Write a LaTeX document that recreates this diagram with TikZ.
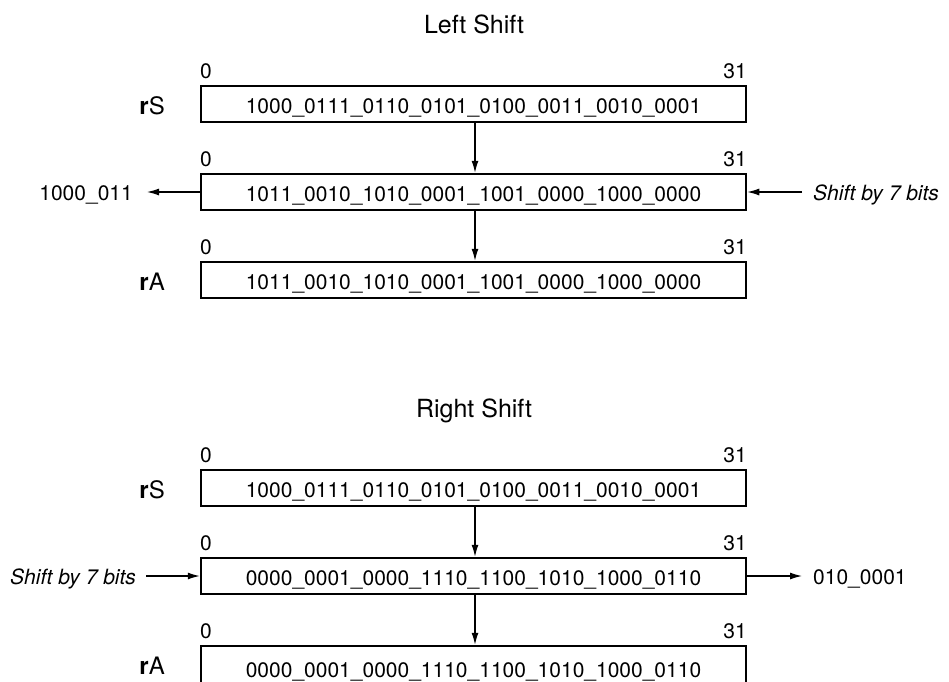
\documentclass[tikz,border=0pt]{standalone}
\usepackage{fontspec}
\setmainfont{TeX Gyre Heros}
\usetikzlibrary{arrows.meta}
\begin{document}
\begin{tikzpicture}[x=1pt,y=-1pt,
 reg/.style={draw, line width=2.5pt, minimum width=545pt, minimum height=36pt, inner sep=0pt, text height=18pt, text depth=0pt, font=\fontsize{21}{25}\selectfont},
 bit/.style={inner sep=0pt, font=\fontsize{21}{25}\selectfont},
 lbl/.style={inner sep=0pt, anchor=base east, font=\fontsize{24}{28}\selectfont},
 ttl/.style={inner sep=0pt, anchor=base, font=\fontsize{25}{30}\selectfont},
 arr/.style={line width=1.2pt, -{Latex[length=12pt,width=7pt]}}]
\useasboundingbox (0,0) rectangle (949,681);
\clip (0,0) rectangle (949,681);

% ---------- Left shift ----------
\node[ttl] (t1) at (474,33) {Left Shift};

\node[reg] (s1) at (473.5,104) {1000\_0111\_0110\_0101\_0100\_0011\_0010\_0001};
\node[bit, anchor=base west] (s1a) at (200,78) {0};
\node[bit, anchor=base east] (s1b) at (747,78) {31};
\node[lbl] (s1n) at (165,114) {\textbf{r}S};

\node[reg] (m1) at (473.5,192) {1011\_0010\_1010\_0001\_1001\_0000\_1000\_0000};
\node[bit, anchor=base west] (m1a) at (200,166) {0};
\node[bit, anchor=base east] (m1b) at (747,166) {31};

\node[reg] (a1) at (473.5,280) {1011\_0010\_1010\_0001\_1001\_0000\_1000\_0000};
\node[bit, anchor=base west] (a1a) at (200,254) {0};
\node[bit, anchor=base east] (a1b) at (747,254) {31};
\node[lbl] (a1n) at (165,290) {\textbf{r}A};

\draw[arr] ([xshift=1.5pt]s1.south) -- ([xshift=1.5pt]m1.north);
\draw[arr] ([xshift=1.5pt]m1.south) -- ([xshift=1.5pt]a1.north);

\node[bit, anchor=base east] (out1) at (133,200) {1000\_011};
\coordinate (o1) at (147,192);
\draw[arr] (m1.west) -- (o1);
\node[bit, anchor=base west] (in1) at (813,200) {\textit{Shift by 7 bits}};
\coordinate (i1) at (802,192);
\draw[arr] (i1) -- (m1.east);

% ---------- Right shift ----------
\node[ttl] (t2) at (474,417) {Right Shift};

\node[reg] (s2) at (473.5,488) {1000\_0111\_0110\_0101\_0100\_0011\_0010\_0001};
\node[bit, anchor=base west] (s2a) at (200,462) {0};
\node[bit, anchor=base east] (s2b) at (747,462) {31};
\node[lbl] (s2n) at (165,498) {\textbf{r}S};

\node[reg] (m2) at (473.5,576) {0000\_0001\_0000\_1110\_1100\_1010\_1000\_0110};
\node[bit, anchor=base west] (m2a) at (200,550) {0};
\node[bit, anchor=base east] (m2b) at (747,550) {31};

\node[reg, minimum height=42pt, text height=21pt] (a2) at (473.5,667) {0000\_0001\_0000\_1110\_1100\_1010\_1000\_0110};
\node[bit, anchor=base west] (a2a) at (200,638) {0};
\node[bit, anchor=base east] (a2b) at (747,638) {31};
\node[lbl] (a2n) at (165,674) {\textbf{r}A};

\draw[arr] ([xshift=1.5pt]s2.south) -- ([xshift=1.5pt]m2.north);
\draw[arr] ([xshift=1.5pt]m2.south) -- ([xshift=1.5pt]a2.north);

\node[bit, anchor=base west] (in2) at (10,584) {\textit{Shift by 7 bits}};
\coordinate (i2) at (146,576);
\draw[arr] (i2) -- (m2.west);
\node[bit, anchor=base west] (out2) at (813,584) {010\_0001};
\coordinate (o2) at (802,576);
\draw[arr] (m2.east) -- (o2);
\end{tikzpicture}
\end{document}
